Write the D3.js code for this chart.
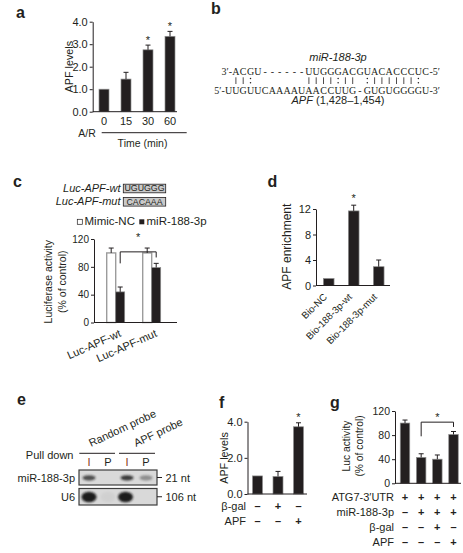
<!DOCTYPE html>
<html>
<head>
<meta charset="utf-8">
<script src="https://cdn.jsdelivr.net/npm/d3@7"></script>
<style>
body { margin: 0; background: #fff; }
svg text { font-family: "Liberation Sans", Arial, sans-serif; fill: #231f20; }
svg text.seq { font-family: "Liberation Serif", "Times New Roman", serif; }
</style>
</head>
<body>
<svg id="fig" width="463" height="553"></svg>
<script>
// 1: DATA
// panel a
const aTimes = ["0", "15", "30", "60"];
const aLevels = [1.0, 1.45, 2.75, 3.35];
const aErr = [0, 0.3, 0.21, 0.22];
const aStar = [false, false, true, true];
// panel b
const mirSeq = "3′-ACGU------UUGGGACGUACACCCUC-5′";
const apfSeq = "5′-UUGUUCAAAAUAACCUUG-GUGUGGGGU-3′";
const pairMarks = " ||:       ||||:|| :||||||:";
// panel c
const cGroups = ["Luc-APF-wt", "Luc-APF-mut"];
const cSeries = ["Mimic-NC", "miR-188-3p"];
const cSites = ["UGUGGG", "CACAAA"];
const cMimic = [100, 100];
const cMimicErr = [7, 7];
const cMir = [44, 79];
const cMirErr = [7, 6];
// panel d
const dLabels = ["Bio-NC", "Bio-188-3p-wt", "Bio-188-3p-mut"];
const dVals = [1.1, 11.7, 2.95];
const dErr = [0, 0.9, 1.05];
// panel e
const eProbes = ["Random probe", "APF probe"];
const eLanes = ["I", "P", "I", "P"];
const eMirBand = [0.75, 0, 0.85, 0.4];
const eU6Band = [1, 0.04, 1, 0];
// panel f
const fVals = [1.0, 0.97, 3.72];
const fErr = [0, 0.28, 0.22];
const fBgal = ["–", "+", "–"];
const fApf = ["–", "–", "+"];
// panel g
const gVals = [100, 43, 40, 81];
const gErr = [5, 6, 7, 5];
const gRows = ["ATG7-3′UTR", "miR-188-3p", "β-gal", "APF"];
const gSigns = [
    ["+", "+", "+", "+"],
    ["–", "+", "+", "+"],
    ["–", "–", "+", "–"],
    ["–", "–", "–", "+"]
];

const ink = "#231f20";
const svg = d3.select("#fig");

// 2: HELPERS
function yAxis(scale, ticks, x, fs) {
    const ax = svg.append("g")
        .attr("transform", `translate(${x},0)`)
        .call(d3.axisLeft(scale).tickValues(ticks).tickSize(3).tickSizeOuter(0).tickPadding(2));
    ax.attr("font-family", null).attr("font-size", null);
    ax.select(".domain").attr("stroke", ink);
    ax.selectAll(".tick line").attr("stroke", ink);
    ax.selectAll("text").attr("font-size", fs).attr("fill", ink);
}

function xLine(x1, x2, y) {
    svg.append("line").attr("x1", x1).attr("x2", x2).attr("y1", y).attr("y2", y)
        .attr("stroke", ink).attr("stroke-width", 1);
}

function bars(vals, errs, xPos, bw, y, fill, stroke) {
    const g = svg.append("g");
    g.selectAll("rect").data(vals).join("rect")
        .attr("x", (d, i) => xPos(i) - bw / 2)
        .attr("y", d => y(d))
        .attr("width", bw)
        .attr("height", d => y(0) - y(d))
        .attr("fill", fill)
        .attr("stroke", stroke)
        .attr("stroke-width", fill === "#fff" ? 1.4 : 0.7);
    vals.forEach((d, i) => {
        if (!errs[i]) return;
        const cx = xPos(i);
        g.append("line").attr("x1", cx).attr("x2", cx).attr("y1", y(d)).attr("y2", y(d + errs[i]))
            .attr("stroke", ink);
        g.append("line").attr("x1", cx - 2.5).attr("x2", cx + 2.5).attr("y1", y(d + errs[i])).attr("y2", y(d + errs[i]))
            .attr("stroke", ink);
    });
}

function star(x, yTop) {
    svg.append("text").attr("x", x).attr("y", yTop - 1.5).attr("text-anchor", "middle")
        .attr("font-size", 11).text("*");
}

function yLabel(lines, x0, dx, cy, fs) {
    lines.forEach((t, i) => {
        svg.append("text")
            .attr("transform", `translate(${x0 + i * dx},${cy}) rotate(-90)`)
            .attr("text-anchor", "middle").attr("dominant-baseline", "central")
            .attr("font-size", fs).text(t);
    });
}

function letter(t, x, y) {
    svg.append("text").attr("x", x).attr("y", y).attr("font-size", 16)
        .attr("font-weight", "bold").text(t);
}

// 3: PANEL A
letter("a", 16, 17.5);
const yA = d3.scaleLinear().domain([0, 4]).range([111.7, 21.7]);
const xA = d3.scalePoint().domain(aTimes).range([104, 170]);
bars(aLevels, aErr, i => xA(aTimes[i]), 10, yA, ink, "#8f8f8f");
yAxis(yA, [0, 1, 2, 3, 4], 92.7, 11);
xLine(92.7, 177, yA(0));
aTimes.forEach((t, i) => {
    svg.append("text").attr("x", xA(t)).attr("y", 125).attr("text-anchor", "middle")
        .attr("font-size", 11).text(t);
    if (aStar[i]) star(xA(t), yA(aLevels[i] + aErr[i]));
});
svg.append("text").attr("x", 87).attr("y", 137).attr("text-anchor", "middle").attr("font-size", 10.5).text("A/R");
xLine(101.7, 186.7, 132.7);
svg.append("text").attr("x", 142.5).attr("y", 147).attr("text-anchor", "middle").attr("font-size", 10.5).text("Time (min)");
yLabel(["APF levels"], 69, 0, 66.7, 10.8);

// 4: PANEL B
letter("b", 211, 14);
// one column per base; the 3'/5' ends are written outside the columns
const colB = d3.scaleLinear().domain([0, 27]).range([228.6, 228.6 + 27 * 7.3]);
svg.append("text").attr("x", 338).attr("y", 60.5).attr("text-anchor", "middle")
    .attr("font-size", 11).attr("font-style", "italic").text("miR-188-3p");
const seqRows = [
    { s: mirSeq, off: 1, y: 74.5 },
    { s: apfSeq, off: 0, y: 93.5 }
];
seqRows.forEach(r => {
    const chars = Array.from(r.s);
    const core = chars.slice(3, -3);
    svg.append("g").selectAll("text").data(core).join("text")
        .attr("class", "seq")
        .attr("x", (c, i) => colB(i + r.off))
        .attr("y", r.y)
        .attr("text-anchor", "middle")
        .attr("font-size", 10)
        .text(c => c);
    svg.append("text").attr("class", "seq").attr("x", colB(r.off) - 3.8).attr("y", r.y)
        .attr("text-anchor", "end").attr("font-size", 10).text(chars.slice(0, 3).join(""));
    svg.append("text").attr("class", "seq").attr("x", colB(r.off + core.length - 1) + 3.8).attr("y", r.y)
        .attr("font-size", 10).text(chars.slice(-3).join(""));
});
// base-pair marks: "|" Watson-Crick, ":" wobble
const marks = Array.from(pairMarks).map((c, i) => ({ c, i })).filter(m => m.c !== " ");
const markG = svg.append("g");
markG.selectAll("line").data(marks.filter(m => m.c === "|")).join("line")
    .attr("x1", m => colB(m.i)).attr("x2", m => colB(m.i))
    .attr("y1", 77.3).attr("y2", 84)
    .attr("stroke", ink).attr("stroke-width", 0.8);
markG.selectAll("circle").data(marks.filter(m => m.c === ":").flatMap(m => [[m.i, 78.6], [m.i, 82.8]])).join("circle")
    .attr("cx", d => colB(d[0])).attr("cy", d => d[1]).attr("r", 0.75).attr("fill", ink);
const apfLbl = svg.append("text").attr("x", 338).attr("y", 103.5).attr("text-anchor", "middle").attr("font-size", 11);
apfLbl.append("tspan").attr("font-style", "italic").text("APF");
apfLbl.append("tspan").text(" (1,428–1,454)");

// 5: PANEL C
letter("c", 13, 187);
cGroups.forEach((g, i) => {
    const by = 192 + i * 13.3;
    svg.append("text").attr("x", 120.5).attr("y", by).attr("text-anchor", "end")
        .attr("font-size", 11).attr("font-style", "italic").text(g);
    svg.append("rect").attr("x", 123.3).attr("y", by - 7.8).attr("width", 42.4).attr("height", 8.6)
        .attr("fill", "#c9c9c9").attr("stroke", ink).attr("stroke-width", 0.8);
    svg.append("text").attr("x", 144.5).attr("y", by - 0.6).attr("text-anchor", "middle")
        .attr("font-size", 8.8).text(cSites[i]);
});
// legend
svg.append("rect").attr("x", 77.3).attr("y", 219.3).attr("width", 5).attr("height", 5)
    .attr("fill", "#fff").attr("stroke", ink).attr("stroke-width", 0.7);
svg.append("text").attr("x", 84.5).attr("y", 225).attr("font-size", 11.5).text(cSeries[0]);
svg.append("rect").attr("x", 139.3).attr("y", 219.3).attr("width", 5).attr("height", 5).attr("fill", ink);
svg.append("text").attr("x", 146.5).attr("y", 225).attr("font-size", 11.5).text(cSeries[1]);

const yC = d3.scaleLinear().domain([0, 120]).range([322.5, 239]);
const xC = d3.scalePoint().domain(cGroups).range([115.7, 151.7]);
const subC = d3.scaleBand().domain(cSeries).range([-9, 9]);
bars(cMimic, cMimicErr, i => xC(cGroups[i]) + subC(cSeries[0]) + subC.bandwidth() / 2, subC.bandwidth(), yC, "#fff", "#9c9c9c");
bars(cMir, cMirErr, i => xC(cGroups[i]) + subC(cSeries[1]) + subC.bandwidth() / 2, subC.bandwidth(), yC, ink, "#8f8f8f");
yAxis(yC, [0, 40, 80, 120], 94, 10);
xLine(94, 177, yC(0));
// significance bracket
const bL = xC(cGroups[0]) + subC(cSeries[1]) + subC.bandwidth() / 2;
const bR = xC(cGroups[1]) + subC(cSeries[1]) + subC.bandwidth() / 2;
svg.append("path")
    .attr("d", `M${bL},${yC(85)}V${yC(101.5)}H${bR}V${yC(93.5)}`)
    .attr("fill", "none").attr("stroke", ink).attr("stroke-width", 1);
star((bL + bR) / 2, yC(101.5) - 9);
cGroups.forEach(g => {
    svg.append("text")
        .attr("transform", `translate(${xC(g) + 6},336) rotate(-24)`)
        .attr("text-anchor", "end").attr("font-size", 11).text(g);
});
yLabel(["Luciferase activity", "(% of control)"], 48.3, 13.4, 281.7, 10.5);

// 6: PANEL D
letter("d", 267.5, 186.7);
const yD = d3.scaleLinear().domain([0, 12]).range([285.5, 209]);
const xD = d3.scalePoint().domain(dLabels).range([328.7, 378.7]);
bars(dVals, dErr, i => xD(dLabels[i]), 10.7, yD, ink, "#8f8f8f");
yAxis(yD, [0, 4, 8, 12], 316, 11);
xLine(316, 390, yD(0));
star(xD(dLabels[1]), yD(dVals[1] + dErr[1]) - 1.5);
dLabels.forEach(l => {
    svg.append("text")
        .attr("transform", `translate(${xD(l) - 1},297.5) rotate(-45)`)
        .attr("text-anchor", "end").attr("font-size", 9.7).text(l);
});
yLabel(["APF enrichment"], 286.7, 0, 246.7, 12);

// 7: PANEL E (blot)
letter("e", 17, 405);
const lanes = d3.scalePoint().domain(d3.range(4)).range([89, 146]);
const defs = svg.append("defs");
defs.append("filter").attr("id", "blur").attr("x", "-50%").attr("y", "-100%").attr("width", "200%").attr("height", "300%")
    .append("feGaussianBlur").attr("stdDeviation", 1.3);
eProbes.forEach((p, i) => {
    svg.append("text").attr("transform", `translate(${[91, 136][i]},447) rotate(-25)`)
        .attr("font-size", 11).text(p);
});
svg.append("text").attr("x", 73.5).attr("y", 459).attr("text-anchor", "end").attr("font-size", 11).text("Pull down");
xLine(79.3, 115, 453.3);
xLine(119, 155, 453.3);
eLanes.forEach((l, i) => {
    svg.append("text").attr("x", lanes(i)).attr("y", 466).attr("text-anchor", "middle")
        .attr("font-size", 11)
        .style("fill", l === "I" ? "#8a3b12" : ink).text(l);
});
const blotRows = [
    { name: "miR-188-3p", y: 470, h: 15, band: eMirBand, bh: 2.6, size: "21 nt" },
    { name: "U6", y: 488.5, h: 16.5, band: eU6Band, bh: 5.2, size: "106 nt" }
];
blotRows.forEach(r => {
    svg.append("rect").attr("x", 79).attr("y", r.y).attr("width", 78).attr("height", r.h)
        .attr("fill", "#d9d9d9").attr("stroke", "#3d3d3d").attr("stroke-width", 1.2);
    svg.append("g").selectAll("ellipse").data(r.band).join("ellipse")
        .attr("cx", (d, i) => lanes(i) + (r.name === "U6" && i === 2 ? -1.5 : 0))
        .attr("cy", r.y + r.h / 2 + 0.3)
        .attr("rx", r.name === "U6" ? 7.5 : 6.5)
        .attr("ry", r.bh)
        .attr("fill", "#1c1c1c")
        .attr("opacity", d => d)
        .attr("filter", "url(#blur)");
    const cy = r.y + r.h / 2;
    svg.append("text").attr("x", 75).attr("y", cy + 4).attr("text-anchor", "end").attr("font-size", 11).text(r.name);
    xLine(157, 162, cy);
    svg.append("text").attr("x", 165.5).attr("y", cy + 4).attr("font-size", 11).text(r.size);
});

// 8: PANEL F
letter("f", 219, 408);
const yF = d3.scaleLinear().domain([0, 4]).range([494, 421.7]);
const xF = d3.scalePoint().domain(d3.range(3)).range([257.5, 298.5]);
bars(fVals, fErr, i => xF(i), 10, yF, ink, "#8f8f8f");
yAxis(yF, [0, 2, 4], 247.5, 11);
xLine(247.5, 307, yF(0));
star(xF(2), yF(fVals[2] + fErr[2]));
yLabel(["APF levels"], 224, 0, 458, 10.8);
[["β-gal", fBgal], ["APF", fApf]].forEach(([name, signs], r) => {
    const by = 509.5 + r * 15;
    svg.append("text").attr("x", 246).attr("y", by).attr("text-anchor", "end").attr("font-size", 11).text(name);
    signs.forEach((s, i) => {
        svg.append("text").attr("x", xF(i)).attr("y", by).attr("text-anchor", "middle")
            .attr("font-size", 11).attr("font-weight", "bold").text(s);
    });
});

// 9: PANEL G
letter("g", 330, 408);
const yG = d3.scaleLinear().domain([0, 120]).range([483.3, 411]);
const xG = d3.scalePoint().domain(d3.range(4)).range([405, 453.5]);
bars(gVals, gErr, i => xG(i), 9.5, yG, ink, "#8f8f8f");
yAxis(yG, [0, 40, 80, 120], 395, 10.5);
xLine(395, 461, yG(0));
svg.append("path")
    .attr("d", `M${xG(1)},${yG(78)}V${yG(101.5)}H${xG(3)}V${yG(93.5)}`)
    .attr("fill", "none").attr("stroke", ink).attr("stroke-width", 1);
star((xG(1) + xG(3)) / 2, yG(101.5) + 0.5);
yLabel(["Luc activity", "(% of control)"], 346.7, 12.8, 446, 10.3);
gRows.forEach((name, r) => {
    const by = 500.5 + r * 15;
    svg.append("text").attr("x", 394).attr("y", by).attr("text-anchor", "end").attr("font-size", 11).text(name);
    gSigns[r].forEach((s, i) => {
        svg.append("text").attr("x", xG(i)).attr("y", by).attr("text-anchor", "middle")
            .attr("font-size", 11).attr("font-weight", "bold").text(s);
    });
});
</script>
</body>
</html>
